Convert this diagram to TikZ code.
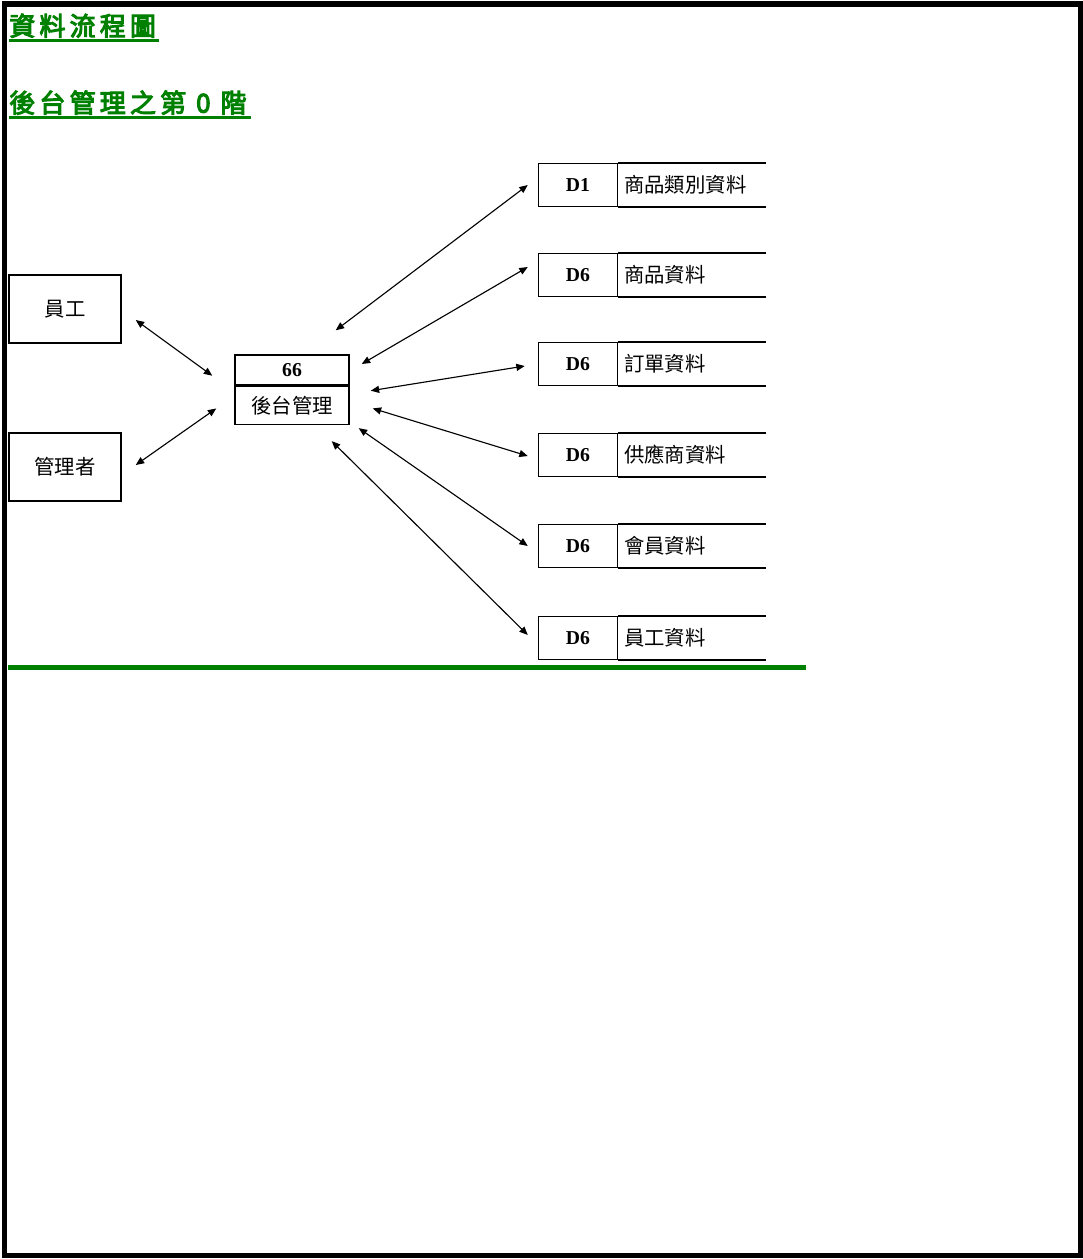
\documentclass[tikz,border=0pt]{standalone}
\usepackage{fontspec}
\usepackage{xcolor}
\usepackage{tikz}
\usetikzlibrary{calc,arrows.meta,positioning}
\setmainfont{Liberation Serif}
\newfontfamily\cjk{Noto Sans CJK TC}
\newfontfamily\cjktitle[FakeBold=4,LetterSpace=16]{Noto Sans CJK TC}
\definecolor{titlegreen}{RGB}{0,128,0}

\begin{document}
\begin{tikzpicture}[
        x=0.025cm, y=-0.025cm,
        title/.style={anchor=south west, inner sep=0pt, text=titlegreen, font=\cjktitle\fontsize{18.5}{20}\selectfont},
        uline/.style={draw=titlegreen, line width=0.075cm},
        entity/.style={draw, line width=1pt, minimum width=2.8cm, minimum height=1.7cm, inner sep=0pt, font=\cjk\fontsize{14.5}{16}\selectfont},
        procid/.style={draw, line width=1pt, minimum width=2.85cm, minimum height=0.75cm, inner sep=0pt, font=\bfseries\fontsize{14}{15}\selectfont},
        procname/.style={draw, line width=1pt, minimum width=2.85cm, minimum height=0.95cm, inner sep=0pt, font=\cjk\fontsize{14.5}{16}\selectfont},
        storeid/.style={draw, line width=1pt, minimum width=1.975cm, minimum height=1.08cm, inner sep=0pt, font=\bfseries\fontsize{14}{15}\selectfont},
        storename/.style={anchor=west, inner sep=0pt, font=\cjk\fontsize{14.5}{16}\selectfont},
        flow/.style={<->, line width=0.8pt},
        >={Triangle[length=6pt,width=5pt]}
    ]
        \useasboundingbox (0,0) rectangle (1083,1259);
        % frame
        \draw[line width=0.13cm] (4.5,4) rectangle (1080.5,1255.5);

        % titles
        \node[title] (t1) at (9,38) {資料流程圖};
        \draw[uline] (t1.south west) ++(0,2) -- ++(150,0);
        \node[title] (t2) at (9,115) {後台管理之第 0 階};
        \draw[uline] (t2.south west) ++(0,2) -- ++(242,0);

        % external entities
        \node[entity] (emp) at (65,309) {員工};
        \node[entity] (mgr) at (65,467) {管理者};

        % process
        \node[procid] (pid) at (292,370) {66};
        \node[procname, below=0pt of pid] (pname) {後台管理};

        % data stores
        \foreach \y/\id/\name [count=\i] in {185/D1/商品類別資料, 275/D6/商品資料, 364/D6/訂單資料,
                                              455/D6/供應商資料, 546/D6/會員資料, 638/D6/員工資料}{
            \node[storeid] (s\i) at (578,\y) {\id};
            \draw[line width=1.4pt] (s\i.north east) -- ++(148,0);
            \draw[line width=1.4pt] (s\i.south east) -- ++(148,0);
            \node[storename] (n\i) at ([xshift=4pt]s\i.east) {\name};
        }

        % flows
        \draw[flow] ([shift={(14,11)}]emp.east) -- ([shift={(-22,-10)}]pname.north west);
        \draw[flow] ([shift={(14,-2)}]mgr.east) -- ([shift={(-18,3)}]pname.west);
        \draw[flow] ([shift={(-10,0)}]s1.west) -- ([shift={(-14,-24)}]pid.north east);
        \draw[flow] ([shift={(-10,-8)}]s2.west) -- ([shift={(12,-6)}]pid.east);
        \draw[flow] ([shift={(-13,2)}]s3.west) -- ([shift={(21,5)}]pname.north east);
        \draw[flow] ([shift={(-10,1)}]s4.west) -- ([shift={(23,3)}]pname.east);
        \draw[flow] ([shift={(-10,0)}]s5.west) -- ([shift={(9,3)}]pname.south east);
        \draw[flow] ([shift={(-10,-3)}]s6.west) -- ([shift={(-18,16)}]pname.south east);

        % separator
        \draw[titlegreen, line width=0.125cm] (8,667.5) -- (806,667.5);
    \end{tikzpicture}
\end{document}
